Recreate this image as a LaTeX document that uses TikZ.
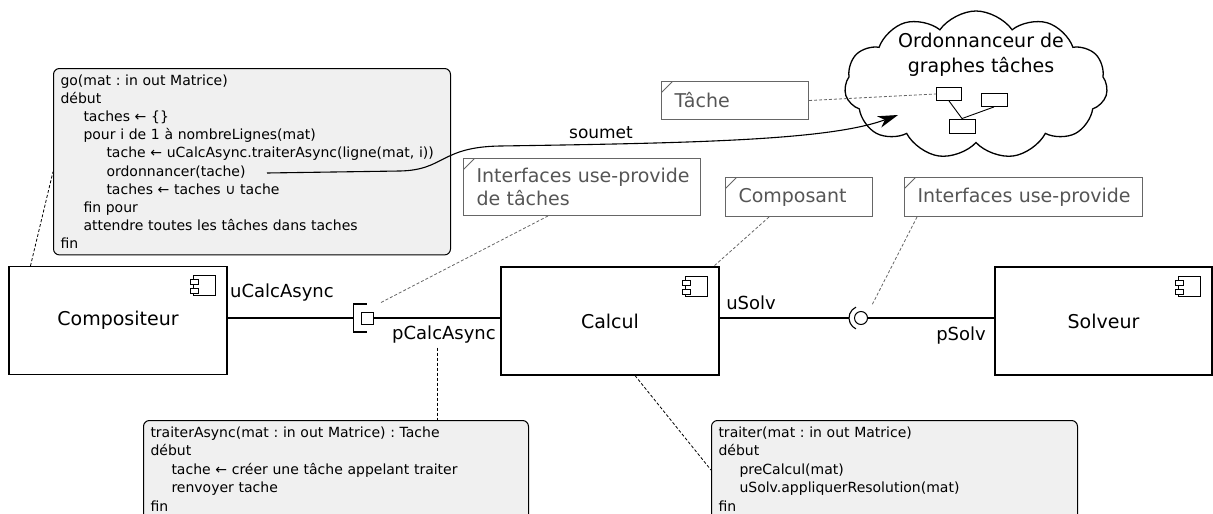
\documentclass[tikz,border=0pt]{standalone}
\usepackage{fontspec}
\setmainfont{DejaVu Sans}
\usepackage{tikz}
\usetikzlibrary{shapes.symbols}
\usetikzlibrary{arrows.meta}
\definecolor{fondcode}{HTML}{F0F0F0}
\definecolor{grisnote}{HTML}{666666}
\definecolor{gristexte}{HTML}{555555}
\newcommand\retrait{\hspace*{23pt}}
\frenchspacing

\begin{document}
\begin{tikzpicture}[x=1pt, y=-1pt, line width=1.1pt,
  composant/.style={draw, minimum width=218pt, minimum height=108pt, font=\fontsize{19}{23}\selectfont,
    path picture={
      \draw[line width=.8pt] ([xshift=-34pt,yshift=-9pt]path picture bounding box.north east) rectangle ([xshift=-12pt,yshift=-29pt]path picture bounding box.north east);
      \draw[line width=.8pt, fill=white] ([xshift=-37pt,yshift=-13pt]path picture bounding box.north east) rectangle ([xshift=-29pt,yshift=-18pt]path picture bounding box.north east);
      \draw[line width=.8pt, fill=white] ([xshift=-37pt,yshift=-22pt]path picture bounding box.north east) rectangle ([xshift=-29pt,yshift=-27pt]path picture bounding box.north east);}},
  algo/.style={draw, line width=1pt, rounded corners=6pt, fill=fondcode, anchor=north west, align=left,
    inner xsep=7pt, inner ysep=6pt, font=\fontsize{14}{18.2}\selectfont},
  note/.style={draw=grisnote, text=gristexte, line width=1pt, anchor=north west, align=left,
    inner xsep=13pt, font=\fontsize{19}{23.5}\selectfont,
    path picture={\draw[grisnote, line width=.8pt] ([yshift=-11pt]path picture bounding box.north west) -- ([xshift=11pt]path picture bounding box.north west);}},
  lien/.style={dash pattern=on 3pt off 2pt, line width=.8pt},
  liengris/.style={lien, grisnote},
  port/.style={font=\fontsize{18}{22}\selectfont}]
  \clip (0,0) rectangle (1213,514);

  \node[composant] at (118,320.5) (comp) {Compositeur};
  \node[composant] at (610,321) (calc) {Calcul};
  \node[composant, minimum width=217pt] at (1103.5,321) (solv) {Solveur};

  \node[draw, line width=1pt, minimum size=12pt, inner sep=0pt] at (367,318) (pca) {};
  \draw ([xshift=6pt,yshift=14pt]pca.west) -- ([xshift=-7pt,yshift=14pt]pca.west) -- ([xshift=-7pt,yshift=-14pt]pca.west) -- ([xshift=6pt,yshift=-14pt]pca.west);
  \draw (comp.east |- pca) -- ([xshift=-7pt]pca.west);
  \draw (pca.east) -- (pca -| calc.west);

  \node[draw, circle, line width=1pt, minimum size=13pt, inner sep=0pt] at (861,318) (lol) {};
  \draw ([shift={(115:12pt)}]lol.center) arc[start angle=115, end angle=245, radius=12pt];
  \draw (lol -| calc.east) -- ([xshift=-12pt]lol.center);
  \draw (lol.east) -- (lol -| solv.west);

  \node[port] at (282,293) (luca) {uCalcAsync};
  \node[port] at (444,335) (lpca) {pCalcAsync};
  \node[port] at (751,303) (lus) {uSolv};
  \node[port] at (961,336) (lps) {pSolv};

  \node[algo, text width=383pt] at (53,68) (go) {go(mat : in out Matrice)\\
    début\\
    \retrait taches ← \{\}\\
    \retrait pour i de 1 à nombreLignes(mat)\\
    \retrait\retrait tache ← uCalcAsync.traiterAsync(ligne(mat, i))\\
    \retrait\retrait ordonnancer(tache)\\
    \retrait\retrait taches ← taches ∪ tache\\
    \retrait fin pour\\
    \retrait attendre toutes les tâches dans taches\\
    fin};
  \node[algo, text width=371pt, font=\fontsize{14}{18.6}\selectfont] at (143,420) (tasync) {traiterAsync(mat : in out Matrice) : Tache\\
    début\\
    \hspace*{21pt}tache ← créer une tâche appelant traiter\\
    \hspace*{21pt}renvoyer tache\\
    fin\strut};
  \node[algo, text width=352pt, font=\fontsize{14}{18.6}\selectfont] at (711,420) (traiter) {traiter(mat : in out Matrice)\\
    début\\
    \hspace*{21pt}preCalcul(mat)\\
    \hspace*{21pt}uSolv.appliquerResolution(mat)\\
    fin\strut};

  \draw[lien] ([xshift=22pt]comp.north west) -- ([yshift=-10pt]go.west);
  \draw[lien] ([xshift=-7pt]lpca.south) -- ([xshift=-7pt]lpca.south |- tasync.north);
  \draw[lien] ([xshift=25pt]calc.south) -- ([yshift=-50pt]traiter.north west);

  \node[cloud, draw, line width=1.3pt, cloud puffs=11, cloud puff arc=110, aspect=1.8,
    minimum width=263pt, minimum height=148pt] at (976,85) (ordo) {};
  \node[align=center, font=\fontsize{19}{25}\selectfont] at (981,55) (ordotxt) {Ordonnanceur de\\graphes tâches};
  \node[draw, line width=.9pt, minimum width=25pt, minimum height=13pt, inner sep=0pt] at (949,94) (t1) {};
  \node[draw, line width=.9pt, minimum width=26pt, minimum height=13pt, inner sep=0pt] at (994,100) (t2) {};
  \node[draw, line width=.9pt, minimum width=26pt, minimum height=14pt, inner sep=0pt] at (962,126) (t3) {};
  \draw[line width=.9pt] (t1.south) -- (t3.north);
  \draw[line width=.9pt] (t2.south) -- (t3.north);

  \coordinate (depart) at (267,173);
  \coordinate (arrivee) at (898,115);
  \draw[-{Stealth[length=20pt, width=12pt, inset=6pt]}] (depart) -- (400,171) .. controls (445,170) and (440,147) .. (500,146)
    .. controls (700,143) and (830,140) .. (arrivee);
  \node[font=\fontsize{17}{20}\selectfont] at (601,133) (soumet) {soumet};

  \node[note, text width=121pt, minimum height=38pt] at (661,81) (ntache) {Tâche};
  \node[note, text width=211pt, minimum height=57pt] at (463,158) (nitache) {\mbox{Interfaces use-provide}\\de tâches};
  \node[note, text width=121pt, minimum height=39pt] at (725,177) (ncomp) {Composant};
  \node[note, text width=212pt, minimum height=39pt] at (904,177) (nint) {\mbox{Interfaces use-provide}};

  \draw[liengris] (ntache.east) -- (t1.west);
  \draw[liengris] ([xshift=85pt]nitache.south west) -- ([xshift=13pt,yshift=15pt]pca.center);
  \draw[liengris] ([xshift=44pt]ncomp.south west) -- ([xshift=-6pt]calc.north east);
  \draw[liengris] ([xshift=13pt]nint.south west) -- ([xshift=11pt,yshift=13pt]lol.center);
\end{tikzpicture}
\end{document}
